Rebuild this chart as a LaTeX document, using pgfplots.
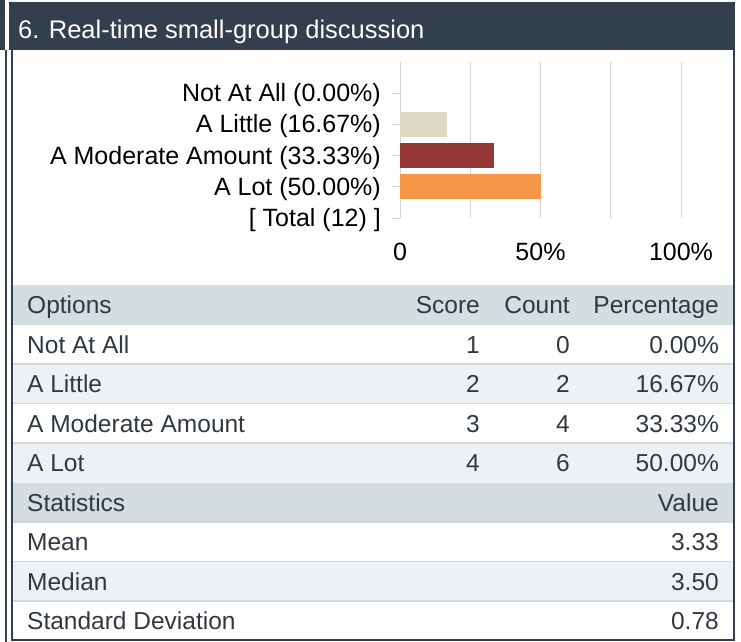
\documentclass[border=0pt]{standalone}
\usepackage{fontspec}
\setmainfont{Liberation Sans}
\usepackage{pgfplots}
\pgfplotsset{compat=1.18}

\definecolor{hdr}{HTML}{343F4E}
\definecolor{thead}{HTML}{D6DDE1}
\definecolor{talt}{HTML}{EDF1F4}
\definecolor{tline}{HTML}{D2D9DE}
\definecolor{ttext}{HTML}{303842}
\definecolor{gridc}{HTML}{D4D4D4}
\definecolor{clittle}{HTML}{DDD9C3}
\definecolor{cmod}{HTML}{953735}
\definecolor{clot}{HTML}{F79646}

\newcommand\tf{\fontsize{24.5}{28}\selectfont}
\newcommand\cf{\fontsize{25}{29}\selectfont}

\begin{document}
\begin{tikzpicture}
\begin{scope}[x=1pt,y=-1pt]
\fill[white] (0,0) rectangle (741,642);
\path[use as bounding box] (0,0) rectangle (741,642);
% edge of the neighbouring panel
\fill[hdr] (0,0) rectangle (5,50);
\fill[hdr] (5,50) rectangle (7,642);
% title bar
\fill[hdr] (9,2) rectangle (735,50);
\node[anchor=base west, white, inner sep=0pt, font=\fontsize{25.5}{30}\selectfont] at (18,38.5) {6. Real-time small-group discussion};
% table backgrounds
\foreach \y/\c in {285/thead, 324.5/white, 364/talt, 403.5/white, 443/talt, 482.5/thead, 522/white, 561.5/talt, 601/white}
  \fill[\c] (13,\y) rectangle (733,\y+39.5);
\foreach \y in {324.5, 364, 403.5, 443, 522, 561.5, 601}
  \draw[tline, line width=1.5pt] (13,\y) -- (733,\y);
% frame
\fill[hdr] (11,50) rectangle (13,641);
\fill[hdr] (733,50) rectangle (735,641);
\fill[hdr] (11,639) rectangle (735,641);
% table text
\begin{scope}[every node/.style={inner sep=0pt, font=\tf, text=ttext}]
\node[anchor=base west] at (27,313.5) {Options};
\node[anchor=base east] at (480,313.5) {Score};
\node[anchor=base east] at (570,313.5) {Count};
\node[anchor=base east] at (719,313.5) {Percentage};
\foreach \yb/\o/\s/\n/\p in {353/Not At All/1/0/0.00,392.5/A Little/2/2/16.67,432/A Moderate Amount/3/4/33.33,471.5/A Lot/4/6/50.00} {
  \node[anchor=base west] at (27,\yb) {\o};
  \node[anchor=base east] at (480,\yb) {\s};
  \node[anchor=base east] at (570,\yb) {\n};
  \node[anchor=base east] at (719,\yb) {\p\%};
}
\node[anchor=base west] at (27,511) {Statistics};
\node[anchor=base east] at (719,511) {Value};
\foreach \yb/\o/\v in {550.5/Mean/3.33,590/Median/3.50,629.5/Standard Deviation/0.78} {
  \node[anchor=base west] at (27,\yb) {\o};
  \node[anchor=base east] at (719,\yb) {\v};
}
\end{scope}
\end{scope}

\begin{axis}[
  at={(400pt,-218pt)}, anchor=south west,
  scale only axis, width=281pt, height=156pt,
  xbar, bar width=25pt, bar shift=0pt,
  xmin=0, xmax=100, ymin=0, ymax=5,
  axis line style={draw=none},
  xtick={0,50,100}, xticklabels={0,50\%,100\%},
  minor xtick={25,75},
  xmajorgrids, xminorgrids,
  major grid style={gridc, line width=1pt},
  minor grid style={gridc, line width=1pt},
  xtick style={draw=none}, minor tick length=0pt,
  ytick={0,1,2,3,4},
  yticklabels={{[ Total (12) ]},{A Lot (50.00\%)},{A Moderate Amount (33.33\%)},{A Little (16.67\%)},{Not At All (0.00\%)}},
  ytick pos=left, tick align=outside, major tick length=7pt,
  ytick style={gridc, line width=1pt},
  ticklabel style={font=\cf, text=black},
  xticklabel style={anchor=base, inner sep=0pt, yshift=-35pt},
  yticklabel style={anchor=base east, inner sep=0pt, xshift=-12pt, yshift=-8.5pt},
  clip=false,
]
\addplot[draw=none, fill=clittle] coordinates {(0,4)};
\addplot[draw=none, fill=clittle] coordinates {(16.67,3)};
\addplot[draw=none, fill=cmod] coordinates {(33.33,2)};
\addplot[draw=none, fill=clot] coordinates {(50,1)};
\end{axis}
\end{tikzpicture}
\end{document}
